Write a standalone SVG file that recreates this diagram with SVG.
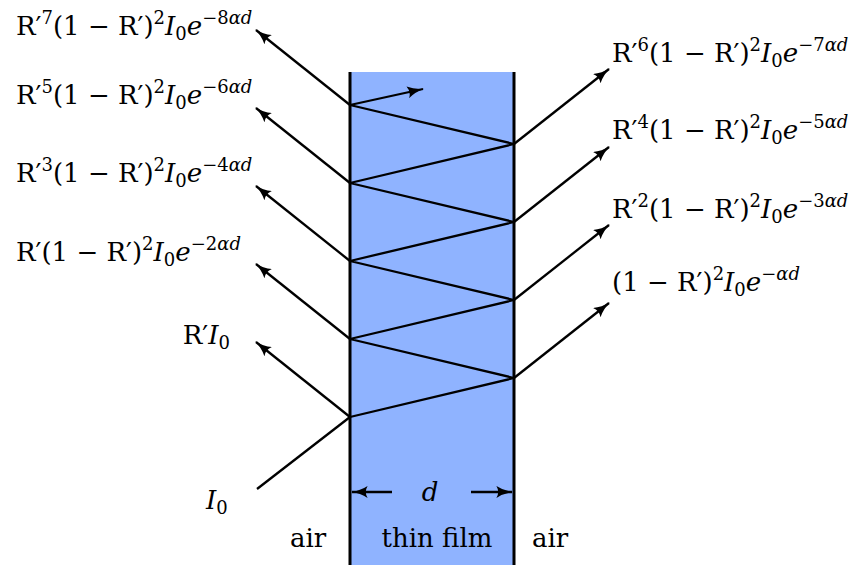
<svg xmlns="http://www.w3.org/2000/svg" width="856" height="565" viewBox="0 0 856 565">
<style>
.lbl{font-family:"DejaVu Serif","Liberation Serif",serif;font-size:26px;fill:#000}
.sup{font-size:18px}
.it{font-style:italic}
.ray{fill:none;stroke:#000;stroke-width:2.3}
.wall{stroke:#000;stroke-width:3}
</style>
<defs>
<marker id="ah" viewBox="0 0 14 10" refX="13" refY="5" markerWidth="17" markerHeight="12" markerUnits="userSpaceOnUse" orient="auto">
<path d="M0,0 Q6,4 14,5 Q6,6 0,10 Q3,5 0,0 Z" fill="#000"/>
</marker>
</defs>
<g id="film">
<rect x="350" y="72" width="164" height="493" fill="#8fb3ff"/>
<line class="wall" x1="350" y1="72" x2="350" y2="565"/>
<line class="wall" x1="514" y1="72" x2="514" y2="565"/>
</g>
<g id="connectors">
<line class="ray" x1="257" y1="489" x2="350" y2="417"/>
<polyline class="ray" points="350,417 514,378 350,339 514,300 350,261 514,222 350,183 514,144 350,105"/>
<line class="ray" x1="350" y1="105" x2="423" y2="89" marker-end="url(#ah)"/>
<line class="ray" x1="350" y1="417" x2="256" y2="342" marker-end="url(#ah)"/>
<line class="ray" x1="350" y1="339" x2="256" y2="264" marker-end="url(#ah)"/>
<line class="ray" x1="350" y1="261" x2="256" y2="186" marker-end="url(#ah)"/>
<line class="ray" x1="350" y1="183" x2="256" y2="108" marker-end="url(#ah)"/>
<line class="ray" x1="350" y1="105" x2="256" y2="30" marker-end="url(#ah)"/>
<line class="ray" x1="514" y1="378" x2="609" y2="303" marker-end="url(#ah)"/>
<line class="ray" x1="514" y1="300" x2="609" y2="225" marker-end="url(#ah)"/>
<line class="ray" x1="514" y1="222" x2="609" y2="147" marker-end="url(#ah)"/>
<line class="ray" x1="514" y1="144" x2="609" y2="69" marker-end="url(#ah)"/>
<line class="ray" x1="392" y1="492" x2="352" y2="492" marker-end="url(#ah)"/>
<line class="ray" x1="471" y1="492" x2="512" y2="492" marker-end="url(#ah)"/>
</g>
<g id="left-labels">
<text class="lbl" x="16" y="35">R′<tspan class="sup" dy="-11">7</tspan><tspan dy="11">(1 − R′)</tspan><tspan class="sup" dy="-11">2</tspan><tspan class="it" dy="11">I</tspan><tspan class="sup" dy="5">0</tspan><tspan class="it" dy="-5">e</tspan><tspan class="sup" dy="-11">−8<tspan class="it">αd</tspan></tspan></text>
<text class="lbl" x="16" y="104">R′<tspan class="sup" dy="-11">5</tspan><tspan dy="11">(1 − R′)</tspan><tspan class="sup" dy="-11">2</tspan><tspan class="it" dy="11">I</tspan><tspan class="sup" dy="5">0</tspan><tspan class="it" dy="-5">e</tspan><tspan class="sup" dy="-11">−6<tspan class="it">αd</tspan></tspan></text>
<text class="lbl" x="16" y="182">R′<tspan class="sup" dy="-11">3</tspan><tspan dy="11">(1 − R′)</tspan><tspan class="sup" dy="-11">2</tspan><tspan class="it" dy="11">I</tspan><tspan class="sup" dy="5">0</tspan><tspan class="it" dy="-5">e</tspan><tspan class="sup" dy="-11">−4<tspan class="it">αd</tspan></tspan></text>
<text class="lbl" x="16" y="261">R′(1 − R′)<tspan class="sup" dy="-11">2</tspan><tspan class="it" dy="11">I</tspan><tspan class="sup" dy="5">0</tspan><tspan class="it" dy="-5">e</tspan><tspan class="sup" dy="-11">−2<tspan class="it">αd</tspan></tspan></text>
<text class="lbl" x="230" y="344" text-anchor="end">R′<tspan class="it">I</tspan><tspan class="sup" dy="5">0</tspan></text>
<text class="lbl" x="206" y="509"><tspan class="it">I</tspan><tspan class="sup" dy="5">0</tspan></text>
</g>
<g id="right-labels">
<text class="lbl" x="612" y="62">R′<tspan class="sup" dy="-11">6</tspan><tspan dy="11">(1 − R′)</tspan><tspan class="sup" dy="-11">2</tspan><tspan class="it" dy="11">I</tspan><tspan class="sup" dy="5">0</tspan><tspan class="it" dy="-5">e</tspan><tspan class="sup" dy="-11">−7<tspan class="it">αd</tspan></tspan></text>
<text class="lbl" x="612" y="139">R′<tspan class="sup" dy="-11">4</tspan><tspan dy="11">(1 − R′)</tspan><tspan class="sup" dy="-11">2</tspan><tspan class="it" dy="11">I</tspan><tspan class="sup" dy="5">0</tspan><tspan class="it" dy="-5">e</tspan><tspan class="sup" dy="-11">−5<tspan class="it">αd</tspan></tspan></text>
<text class="lbl" x="612" y="218">R′<tspan class="sup" dy="-11">2</tspan><tspan dy="11">(1 − R′)</tspan><tspan class="sup" dy="-11">2</tspan><tspan class="it" dy="11">I</tspan><tspan class="sup" dy="5">0</tspan><tspan class="it" dy="-5">e</tspan><tspan class="sup" dy="-11">−3<tspan class="it">αd</tspan></tspan></text>
<text class="lbl" x="612" y="291">(1 − R′)<tspan class="sup" dy="-11">2</tspan><tspan class="it" dy="11">I</tspan><tspan class="sup" dy="5">0</tspan><tspan class="it" dy="-5">e</tspan><tspan class="sup" dy="-11">−<tspan class="it">αd</tspan></tspan></text>
</g>
<g id="bottom-labels">
<text class="lbl it" x="430" y="501" text-anchor="middle">d</text>
<text class="lbl" x="308" y="547" text-anchor="middle">air</text>
<text class="lbl" x="437" y="547" text-anchor="middle">thin film</text>
<text class="lbl" x="550" y="547" text-anchor="middle">air</text>
</g>
</svg>
